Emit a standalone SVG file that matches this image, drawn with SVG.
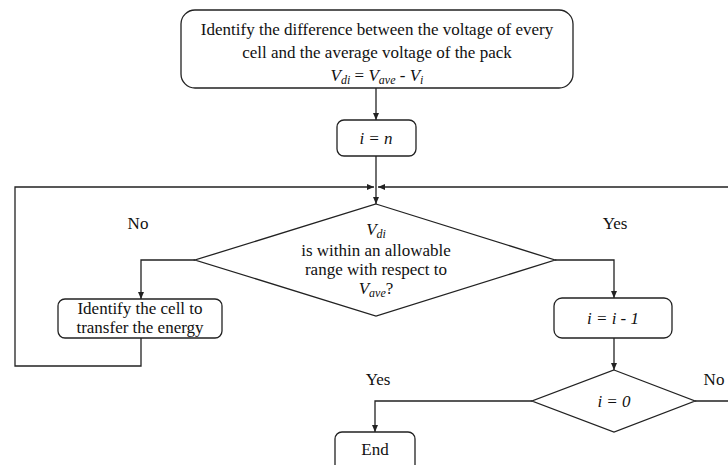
<svg xmlns="http://www.w3.org/2000/svg" width="728" height="465" viewBox="0 0 728 465">
<defs>
<marker id="arr" markerUnits="userSpaceOnUse" markerWidth="7" markerHeight="6" refX="7" refY="3" orient="auto">
<path d="M0,0 L7,3 L0,6 z" fill="#222"/>
</marker>
<style>
.box{fill:#fff;stroke:#222;stroke-width:1.3}
.con{fill:none;stroke:#222;stroke-width:1.3;marker-end:url(#arr)}
text{font-size:17px;fill:#111;text-anchor:middle}
.it{font-style:italic}
.sub{font-style:italic;font-size:12px}
</style>
</defs>
<g font-family="Liberation Serif, DejaVu Serif, serif">
<g id="connectors">
<path class="con" d="M376,88 V120"/>
<path class="con" d="M376,156 V204"/>
<path class="con" d="M141,338 V366 H15 V187 H374"/>
<path class="con" d="M695,401 H730 V187 H378"/>
<path class="con" d="M195,260 H141 V299"/>
<path class="con" d="M555,260 H614 V298"/>
<path class="con" d="M614,338 V370"/>
<path class="con" d="M532,401 H375 V432"/>
</g>
<g id="start">
<rect class="box" x="181" y="10" width="392" height="78" rx="14"/>
<text x="377" y="35">Identify the difference between the voltage of every</text>
<text x="377" y="58">cell and the average voltage of the pack</text>
<text x="377" y="81"><tspan class="it">V</tspan><tspan class="sub" dy="3">di</tspan><tspan dy="-3"> = </tspan><tspan class="it">V</tspan><tspan class="sub" dy="3">ave</tspan><tspan dy="-3"> - </tspan><tspan class="it">V</tspan><tspan class="sub" dy="3">i</tspan></text>
</g>
<g id="init">
<rect class="box" x="337" y="120" width="79" height="36" rx="7"/>
<text x="376" y="144" class="it">i = n</text>
</g>
<g id="check">
<polygon class="box" points="376,204 555,260 376,316 195,260"/>
<text x="376" y="235"><tspan class="it">V</tspan><tspan class="sub" dy="3">di</tspan></text>
<text x="376" y="256">is within an allowable</text>
<text x="376" y="275">range with respect to</text>
<text x="376" y="294"><tspan class="it">V</tspan><tspan class="sub" dy="3">ave</tspan><tspan dy="-3">?</tspan></text>
</g>
<g id="transfer">
<rect class="box" x="58" y="299" width="164" height="39" rx="7"/>
<text x="140" y="314">Identify the cell to</text>
<text x="140" y="333">transfer the energy</text>
</g>
<g id="decrement">
<rect class="box" x="554" y="298" width="118" height="40" rx="8"/>
<text x="613" y="324" class="it">i = i - 1</text>
</g>
<g id="zero">
<polygon class="box" points="614,370 695,401 614,432 532,401"/>
<text x="614" y="407" class="it">i = 0</text>
</g>
<g id="end">
<rect class="box" x="335" y="432" width="80" height="45" rx="7"/>
<text x="375" y="455">End</text>
</g>
<g id="labels">
<text x="138" y="229">No</text>
<text x="615" y="229">Yes</text>
<text x="378" y="385">Yes</text>
<text x="714" y="385">No</text>
</g>
</g>
</svg>
